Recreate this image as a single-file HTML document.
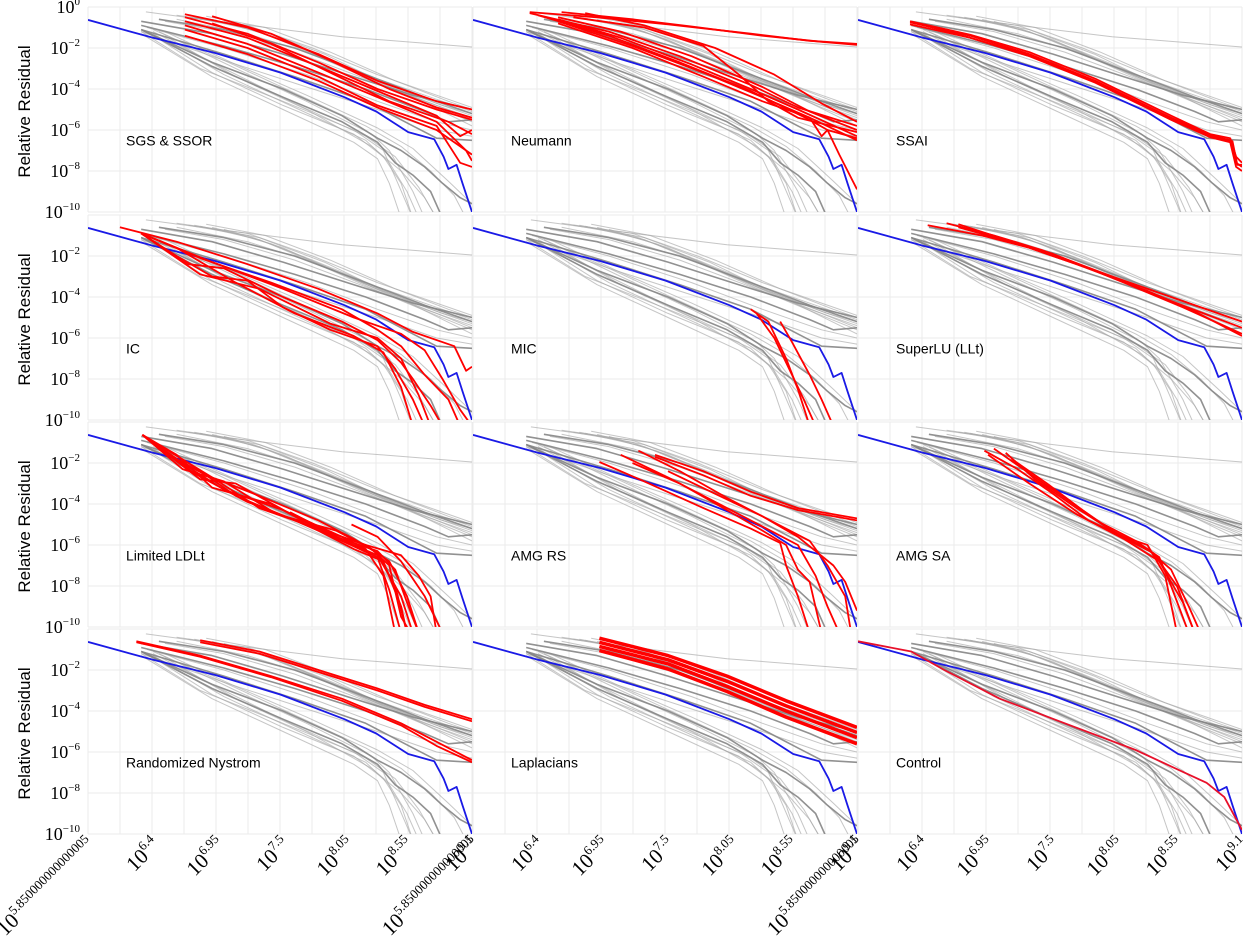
<!DOCTYPE html>
<html><head><meta charset="utf-8"><title>Relative Residual panels</title>
<style>
html,body{margin:0;padding:0;background:#fff;}
svg{display:block;}
</style></head>
<body>
<svg id="chart" width="1250" height="938" viewBox="0 0 1250 938" xmlns="http://www.w3.org/2000/svg"></svg>
<script>
// ---------- data (log10 x, log10 residual) ----------
const panelNames = ["SGS & SSOR","Neumann","SSAI","IC","MIC","SuperLU (LLt)","Limited LDLt","AMG RS","AMG SA","Randomized Nystrom","Laplacians","Control"];
const xTickVals = [5.85,6.4,6.95,7.5,8.05,8.55,9.1];
const xTickSupCol12 = ["5.850000000000005","6.4","6.95","7.5","8.05","8.55","9.1"];
const xTickSupCol3 = ["5.850000000000005","6.4","6.95","7.5","8.05","8.55","9.1"];
const yTickVals = [0,-2,-4,-6,-8,-10];
const yTickSup = ["0","\u22122","\u22124","\u22126","\u22128","\u221210"];

const grayLight = [
 [[6.34,-0.24],[7.0,-0.75],[8.0,-1.45],[9.1,-1.95]],
 [[6.6,-0.4],[7.2,-0.9],[7.75,-2.0],[8.3,-3.3],[8.8,-4.3],[9.1,-4.9]],
 [[6.7,-0.5],[7.2,-1.0],[7.75,-2.2],[8.3,-3.5],[8.8,-4.5],[9.1,-5.1]],
 [[6.8,-0.55],[7.3,-1.2],[7.8,-2.4],[8.3,-3.6],[8.8,-4.7],[9.1,-5.3]],
 [[6.9,-0.6],[7.4,-1.4],[7.9,-2.6],[8.4,-3.9],[8.8,-4.8],[9.1,-5.5]],
 [[6.6,-0.6],[7.2,-1.3],[7.75,-2.3],[8.3,-3.7],[8.8,-4.9],[9.1,-5.6]],
 [[6.5,-0.7],[7.0,-1.2],[7.6,-2.2],[8.2,-3.5],[8.7,-4.6],[9.1,-5.4]],
 [[7.0,-0.7],[7.5,-1.6],[8.0,-2.9],[8.5,-4.1],[9.1,-5.8]],
 [[6.3,-1.2],[7.0,-2.6],[7.7,-3.9],[8.3,-5.0],[8.8,-6.0],[9.1,-6.3]],
 [[6.35,-1.0],[7.0,-2.0],[7.7,-3.3],[8.3,-4.6],[8.8,-5.6],[9.1,-6.0]],
 [[6.3,-1.2],[6.8,-3.0],[7.5,-4.6],[8.1,-6.0],[8.35,-7.0],[8.45,-8.3],[8.6,-10.3]],
 [[6.35,-1.2],[6.9,-3.2],[7.5,-4.8],[8.1,-6.2],[8.35,-7.3],[8.5,-8.6],[8.6,-10.3]],
 [[6.4,-1.3],[7.0,-3.3],[7.6,-4.9],[8.2,-6.5],[8.4,-7.6],[8.55,-9.0],[8.65,-10.3]],
 [[6.4,-1.2],[7.0,-3.0],[7.6,-4.7],[8.2,-6.3],[8.45,-7.3],[8.65,-8.8],[8.8,-10.3]],
 [[6.5,-1.4],[7.1,-3.4],[7.7,-5.0],[8.25,-6.8],[8.5,-8.0],[8.7,-9.3],[8.8,-10.3]],
 [[6.4,-1.1],[7.0,-2.6],[7.6,-4.2],[8.2,-5.8],[8.5,-6.8],[8.75,-8.0],[8.95,-9.2],[9.05,-10.3]],
 [[6.5,-1.2],[7.1,-2.8],[7.7,-4.3],[8.3,-5.9],[8.6,-6.9],[8.9,-8.5],[9.1,-9.6]],
 [[6.45,-1.2],[7.1,-3.0],[7.7,-4.6],[8.25,-6.2],[8.4,-7.0],[8.5,-8.0],[8.6,-9.0],[8.7,-10.3]],
 [[6.3,-1.3],[6.9,-3.4],[7.5,-5.0],[8.1,-6.6],[8.3,-7.4],[8.4,-8.6],[8.5,-10.3]],
 [[6.75,-0.5],[7.3,-1.1],[7.85,-2.3],[8.35,-3.7],[8.85,-4.8],[9.1,-5.2]],
 [[6.85,-0.45],[7.35,-1.0],[7.9,-2.2],[8.45,-3.6],[8.9,-4.6],[9.1,-5.0]]
];
const grayDark = [
 [[6.3,-0.7],[6.9,-1.3],[7.5,-2.3],[8.1,-3.4],[8.6,-4.3],[9.1,-5.0]],
 [[6.45,-0.6],[7.0,-1.1],[7.6,-2.0],[8.2,-3.3],[8.7,-4.4],[9.1,-5.2]],
 [[6.3,-0.9],[7.0,-1.9],[7.6,-2.9],[8.2,-4.0],[8.7,-5.1],[8.9,-5.6],[9.1,-5.5]],
 [[6.3,-1.1],[7.0,-2.3],[7.6,-3.4],[8.2,-4.6],[8.6,-5.8],[8.8,-6.4],[9.1,-6.5]],
 [[6.3,-1.1],[6.9,-2.7],[7.5,-4.0],[8.0,-5.3],[8.3,-6.4],[8.5,-7.0],[8.7,-7.8],[8.85,-8.6],[9.0,-9.3],[9.1,-9.6]],
 [[6.3,-1.1],[6.9,-2.9],[7.5,-4.4],[8.0,-5.6],[8.3,-6.6],[8.45,-7.6],[8.6,-8.2],[8.75,-9.0],[8.85,-10.3]]
];
const blueSeries = [[5.85,-0.63],[6.4,-1.5],[6.93,-2.25],[7.48,-3.2],[8.02,-4.4],[8.29,-5.1],[8.56,-6.1],[8.78,-6.45],[8.86,-7.3],[8.9,-7.9],[8.97,-7.7],[9.02,-8.6],[9.1,-10.0]];

const redSGS = [
 [[6.67,-0.35],[7.2,-1.0],[7.8,-2.3],[8.3,-3.6],[8.8,-4.6],[9.1,-5.0]],
 [[6.67,-0.5],[7.2,-1.3],[7.8,-2.7],[8.3,-4.0],[8.8,-5.0],[9.1,-5.5]],
 [[6.67,-0.7],[7.2,-1.5],[7.8,-2.9],[8.3,-4.1],[8.8,-5.3],[9.0,-6.3],[9.1,-6.0]],
 [[6.67,-0.9],[7.2,-1.8],[7.8,-3.2],[8.3,-4.4],[8.8,-5.6],[9.05,-7.0],[9.1,-7.5]],
 [[6.67,-1.1],[7.2,-2.0],[7.8,-3.4],[8.3,-4.8],[8.8,-5.8],[9.0,-7.6],[9.1,-7.8]],
 [[6.9,-0.45],[7.4,-1.3],[7.9,-2.6],[8.4,-4.0],[8.8,-4.9],[9.1,-5.4]],
 [[6.9,-0.8],[7.4,-1.8],[7.9,-3.2],[8.4,-4.6],[8.9,-5.6],[9.1,-6.2]],
 [[6.67,-1.4],[7.2,-2.3],[7.8,-3.6],[8.3,-4.9],[8.8,-6.0],[9.0,-6.8],[9.1,-7.2]]
];
const redNeumann = [
 [[6.33,-0.25],[6.9,-0.5],[7.5,-0.85],[8.2,-1.3],[8.7,-1.65],[9.1,-1.8]],
 [[6.6,-0.25],[7.2,-0.6],[7.7,-0.95],[8.3,-1.4],[8.8,-1.7],[9.1,-1.85]],
 [[6.33,-0.3],[7.0,-1.2],[7.6,-2.4],[8.2,-3.8],[8.6,-4.9],[9.1,-5.8]],
 [[6.57,-0.6],[7.1,-1.5],[7.7,-2.8],[8.2,-4.0],[8.6,-5.0],[9.1,-6.3]],
 [[6.7,-0.5],[7.3,-1.0],[7.8,-1.9],[8.1,-3.3],[8.35,-4.6],[8.6,-5.4],[9.1,-6.1]],
 [[6.57,-0.7],[7.2,-1.9],[7.8,-3.2],[8.3,-4.4],[8.7,-5.4],[9.1,-6.5]],
 [[6.4,-0.4],[7.0,-1.4],[7.6,-2.7],[8.2,-4.1],[8.7,-5.5],[8.85,-6.0],[8.95,-7.2],[9.1,-8.9]],
 [[6.57,-0.5],[7.1,-1.2],[7.7,-2.4],[8.3,-3.9],[8.7,-5.1],[9.1,-6.0]],
 [[6.8,-0.3],[7.3,-0.9],[7.9,-2.0],[8.4,-3.3],[8.8,-4.7],[9.1,-5.6]],
 [[6.57,-0.8],[7.2,-2.0],[7.8,-3.4],[8.3,-4.6],[8.7,-5.4],[8.8,-6.3],[8.85,-6.0],[9.1,-6.4]]
];
const redSSAI = [
 [[6.29,-0.75],[6.8,-1.4],[7.3,-2.3],[7.86,-3.6],[8.5,-5.4],[8.83,-6.25],[9.0,-6.5],[9.05,-7.6],[9.1,-7.8]],
 [[6.29,-0.85],[6.8,-1.5],[7.3,-2.4],[7.86,-3.7],[8.5,-5.5],[8.83,-6.35],[9.0,-6.6],[9.05,-7.8],[9.1,-8.0]],
 [[6.29,-0.7],[6.8,-1.35],[7.3,-2.2],[7.86,-3.5],[8.5,-5.3],[8.83,-6.2],[9.0,-6.4],[9.05,-7.3],[9.1,-7.6]],
 [[6.35,-0.8],[6.8,-1.5],[7.3,-2.35],[7.86,-3.65],[8.5,-5.45],[8.83,-6.3],[9.02,-6.55],[9.06,-7.7],[9.1,-7.7]]
];
const redIC = [
 [[6.12,-0.6],[6.6,-1.3],[7.2,-2.4],[7.8,-3.6],[8.3,-4.8],[8.6,-5.7],[8.95,-6.4],[9.05,-7.6],[9.1,-7.4]],
 [[6.3,-0.9],[6.8,-2.1],[7.4,-3.3],[8.0,-4.6],[8.3,-5.6],[8.5,-6.4],[8.7,-7.8],[8.9,-9.0],[9.0,-10.3]],
 [[6.3,-0.9],[6.7,-2.4],[7.0,-2.6],[7.5,-4.0],[8.0,-5.2],[8.3,-6.1],[8.5,-7.2],[8.6,-8.0],[8.75,-9.3],[8.85,-10.3]],
 [[6.3,-0.9],[6.6,-2.0],[6.9,-3.0],[7.2,-3.2],[7.5,-4.5],[7.9,-5.6],[8.3,-6.4],[8.45,-7.5],[8.6,-9.0],[8.7,-10.3]],
 [[6.3,-0.9],[6.9,-2.3],[7.5,-3.6],[8.1,-5.0],[8.5,-5.8],[8.7,-6.6],[8.85,-8.0],[9.0,-9.5],[9.1,-10.3]],
 [[6.3,-0.9],[6.6,-1.6],[7.1,-3.3],[7.6,-4.8],[8.1,-5.9],[8.35,-6.7],[8.5,-8.4],[8.6,-10.3]],
 [[6.3,-0.9],[6.8,-2.9],[7.3,-3.6],[7.9,-5.3],[8.3,-6.0],[8.5,-7.0],[8.65,-8.8],[8.75,-10.3]]
];
const redMIC = [
 [[8.2,-4.6],[8.35,-5.2],[8.5,-7.0],[8.6,-8.5],[8.7,-10.3]],
 [[8.25,-4.8],[8.4,-6.0],[8.55,-7.8],[8.65,-9.0],[8.75,-10.3]],
 [[8.45,-5.2],[8.55,-6.2],[8.7,-7.8],[8.8,-9.0],[8.9,-10.3]]
];
const redSuperLU = [
 [[6.44,-0.5],[6.9,-1.0],[7.3,-1.6],[7.9,-2.8],[8.5,-4.0],[9.1,-5.2]],
 [[6.6,-0.4],[7.0,-1.0],[7.4,-1.7],[8.0,-3.0],[8.5,-4.2],[9.1,-5.5]],
 [[6.7,-0.45],[7.1,-1.2],[7.5,-1.9],[8.1,-3.3],[8.6,-4.5],[9.1,-5.8]],
 [[6.7,-0.6],[7.2,-1.4],[7.7,-2.4],[8.3,-3.7],[8.7,-4.7],[9.1,-5.9]]
];
const redLDLt = [
 [[6.31,-0.63],[6.6,-1.8],[6.85,-2.6],[7.3,-3.6],[7.8,-4.8],[8.1,-5.7],[8.3,-6.4],[8.45,-8.0],[8.55,-10.3]],
 [[6.31,-0.63],[6.7,-2.2],[7.0,-3.3],[7.5,-4.3],[8.0,-5.6],[8.2,-6.2],[8.35,-7.5],[8.45,-10.3]],
 [[6.31,-0.63],[6.8,-2.8],[7.1,-3.0],[7.6,-4.6],[8.1,-6.0],[8.3,-6.5],[8.5,-8.5],[8.6,-10.3]],
 [[6.31,-0.63],[6.75,-2.5],[7.2,-3.9],[7.7,-5.0],[8.1,-6.2],[8.35,-6.8],[8.5,-9.0],[8.55,-10.3]],
 [[6.31,-0.63],[6.9,-2.7],[7.3,-4.2],[7.8,-5.2],[8.2,-6.0],[8.5,-6.5],[8.65,-7.5],[8.75,-8.5],[8.8,-10.3]],
 [[6.31,-0.63],[6.7,-2.0],[7.1,-3.6],[7.6,-4.8],[8.0,-5.8],[8.3,-6.6],[8.4,-8.2],[8.5,-10.3]],
 [[7.56,-4.4],[7.9,-5.4],[8.2,-6.0],[8.4,-6.8],[8.55,-8.5],[8.65,-10.3]],
 [[8.08,-5.0],[8.3,-5.6],[8.5,-6.8],[8.7,-8.5],[8.85,-10.3]],
 [[6.31,-0.63],[6.6,-1.6],[6.9,-3.2],[7.4,-4.0],[7.9,-5.5],[8.3,-6.3],[8.45,-7.2],[8.55,-8.8],[8.65,-10.3]],
 [[6.31,-0.63],[6.65,-2.3],[7.0,-2.9],[7.45,-4.5],[7.95,-5.3],[8.25,-6.2],[8.4,-7.0],[8.5,-9.5],[8.58,-10.3]]
];
const redAMGRS = [
 [[7.39,-1.6],[7.8,-2.4],[8.2,-3.4],[8.6,-4.2],[8.9,-4.5],[9.1,-4.7]],
 [[7.39,-1.7],[7.8,-2.6],[8.2,-3.6],[8.6,-4.3],[8.9,-4.6],[9.1,-4.8]],
 [[6.92,-1.95],[7.3,-2.9],[7.8,-4.2],[8.2,-5.2],[8.45,-5.9],[8.5,-7.0],[8.6,-8.5],[8.7,-10.3]],
 [[7.1,-1.6],[7.5,-2.7],[8.0,-4.2],[8.4,-5.4],[8.6,-6.0],[8.75,-7.5],[8.85,-9.0],[8.95,-10.3]],
 [[7.25,-1.4],[7.6,-2.4],[8.0,-3.7],[8.4,-4.9],[8.7,-5.8],[8.85,-7.0],[9.0,-8.5],[9.05,-10.3]],
 [[7.2,-2.0],[7.6,-3.0],[8.0,-4.3],[8.3,-5.3],[8.5,-6.0],[8.6,-7.2],[8.7,-7.8],[8.8,-10.3]],
 [[7.5,-2.4],[7.9,-3.5],[8.3,-4.6],[8.6,-5.6],[8.75,-6.3],[8.9,-7.0],[9.0,-7.8],[9.1,-9.2]]
];
const redAMGSA = [
 [[6.92,-1.4],[7.2,-2.3],[7.5,-3.5],[7.8,-4.8],[8.1,-5.6],[8.3,-6.0],[8.45,-7.5],[8.55,-10.3]],
 [[7.0,-1.3],[7.3,-2.5],[7.6,-3.7],[7.9,-4.9],[8.2,-5.8],[8.4,-6.6],[8.5,-8.0],[8.65,-10.3]],
 [[7.1,-1.5],[7.35,-2.8],[7.7,-4.2],[8.0,-5.3],[8.3,-6.2],[8.5,-7.2],[8.65,-9.0],[8.75,-10.3]],
 [[7.15,-1.8],[7.45,-3.0],[7.75,-4.3],[8.05,-5.5],[8.35,-6.4],[8.55,-8.0],[8.7,-10.3]],
 [[6.95,-1.6],[7.3,-3.0],[7.7,-4.5],[8.1,-5.7],[8.4,-6.8],[8.6,-8.8],[8.7,-10.3]]
];
const redNystrom = [
 [[6.8,-0.55],[7.3,-1.1],[7.8,-2.0],[8.3,-2.9],[8.7,-3.7],[9.1,-4.4]],
 [[6.8,-0.65],[7.3,-1.2],[7.8,-2.1],[8.3,-3.0],[8.7,-3.8],[9.1,-4.5]],
 [[6.26,-0.6],[6.8,-1.3],[7.4,-2.3],[8.0,-3.4],[8.5,-4.6],[8.8,-5.5],[9.1,-6.4]],
 [[6.26,-0.65],[6.8,-1.35],[7.4,-2.35],[8.0,-3.5],[8.5,-4.7],[8.8,-5.7],[9.1,-6.5]]
];
const redLaplacians = [
 [[6.92,-0.45],[7.5,-1.3],[8.0,-2.3],[8.5,-3.5],[9.1,-4.8]],
 [[6.92,-0.65],[7.5,-1.5],[8.0,-2.55],[8.5,-3.75],[9.1,-5.05]],
 [[6.92,-0.85],[7.5,-1.7],[8.0,-2.8],[8.5,-4.0],[9.1,-5.3]],
 [[6.92,-1.05],[7.5,-1.95],[8.0,-3.05],[8.5,-4.3],[9.1,-5.6]]
];
const redControl = [
 [[5.85,-0.6],[6.3,-1.1],[6.58,-2.0],[7.05,-3.4],[7.6,-4.6],[8.2,-5.9],[8.5,-6.7],[8.8,-7.5],[8.95,-8.2],[9.1,-9.8]]
];
const redByPanel = [redSGS,redNeumann,redSSAI,redIC,redMIC,redSuperLU,redLDLt,redAMGRS,redAMGSA,redNystrom,redLaplacians,redControl];

// ---------- layout ----------
const NS = "http://www.w3.org/2000/svg";
const svg = document.getElementById('chart');
const colX = [88,473,858];
const rowTop = [7,215,422,629];
const PW = 384, PH = 205;
const XMIN = 5.85, XMAX = 9.1, YMIN = -10, YMAX = 0;
function sx(col, lx){ return colX[col] + (lx - XMIN) / (XMAX - XMIN) * PW; }
function sy(row, ly){ return rowTop[row] + (YMAX - ly) / (YMAX - YMIN) * PH; }
function mk(tag, attrs){ const e = document.createElementNS(NS, tag); for (const k in attrs) e.setAttribute(k, attrs[k]); return e; }

const defs = mk('defs', {});
svg.appendChild(defs);

function drawSeries(g, row, col, pts, stroke, width, opacity, name){
  const d = pts.map((p,i) => (i ? 'L' : 'M') + sx(col,p[0]).toFixed(1) + ',' + sy(row,p[1]).toFixed(1)).join(' ');
  const path = mk('path', {d:d, fill:'none', stroke:stroke, 'stroke-width':width, 'stroke-opacity':opacity, 'stroke-linejoin':'round'});
  
  
  g.appendChild(path);
}

for (let p = 0; p < 12; p++){
  const row = Math.floor(p/3), col = p%3;
  const g = mk('g', {});
  
  
  svg.appendChild(g);
  const cp = mk('clipPath', {id:'clip'+p});
  cp.appendChild(mk('rect', {x:colX[col], y:rowTop[row], width:PW, height:PH}));
  defs.appendChild(cp);
  const grid = mk('g', {stroke:'#ebebeb', 'stroke-width':1});
  
  
  g.appendChild(grid);
  for (let i = 0; i <= 12; i++){
    const x = colX[col] + i*PW/12;
    grid.appendChild(mk('line', {x1:x, x2:x, y1:rowTop[row], y2:rowTop[row]+PH}));
  }
  yTickVals.forEach(v => {
    const y = sy(row, v);
    grid.appendChild(mk('line', {x1:colX[col], x2:colX[col]+PW, y1:y, y2:y}));
  });
  const lines = mk('g', {'clip-path':'url(#clip'+p+')'});
  
  
  g.appendChild(lines);
  grayLight.forEach((s,i) => drawSeries(lines, row, col, s, '#a8a8a8', 1, 0.65, 'gray-line-' + i));
  grayDark.forEach((s,i) => drawSeries(lines, row, col, s, '#858585', 1.6, 0.9, 'gray-dark-line-' + i));
  drawSeries(lines, row, col, blueSeries, '#1a1ae6', 1.8, 1, 'reference-blue-line');
  const wid = (p === 10) ? 3.5 : 1.8;
  redByPanel[p].forEach((s,i) => drawSeries(lines, row, col, s, (p===11)?'#e8102a':'#ff0000', wid, 1, 'highlight-red-line-' + i));
  const t = mk('text', {x:colX[col]+38, y:sy(row,-6.5)+5, 'font-family':'"Liberation Sans", sans-serif', 'font-size':14, fill:'#000'});
  t.textContent = panelNames[p];
  
  
  g.appendChild(t);
}

// y-axis tick labels and titles
for (let row = 0; row < 4; row++){
  yTickVals.forEach((v,i) => {
    if (row > 0 && v === 0) return;
    const y = sy(row, v);
    const t = mk('text', {x:80, y:y+6, 'text-anchor':'end', 'font-family':'"Liberation Serif", serif', 'font-size':18, fill:'#000'});
    
    
    const b = mk('tspan', {}); b.textContent = '10';
    const s = mk('tspan', {'font-size':11, dy:-8}); s.textContent = yTickSup[i];
    t.appendChild(b); t.appendChild(s);
    svg.appendChild(t);
  });
  const cy = rowTop[row] + PH/2 + 2;
  const tt = mk('text', {x:0, y:0, transform:'translate(30,'+cy+') rotate(-90)', 'text-anchor':'middle', 'font-family':'"Liberation Sans", sans-serif', 'font-size':17, fill:'#000'});
  tt.textContent = 'Relative Residual';
  
  
  svg.appendChild(tt);
}

// x-axis tick labels (bottom row)
for (let col = 0; col < 3; col++){
  const labels = col < 2 ? xTickSupCol12 : xTickSupCol3;
  xTickVals.forEach((v,i) => {
    const x = sx(col, v);
    const t = mk('text', {x:0, y:0, transform:'translate('+(x+8)+',846) rotate(-45)', 'text-anchor':'end', 'font-family':'"Liberation Serif", serif', 'font-size':21, fill:'#000'});
    
    
    const b = mk('tspan', {}); b.textContent = '10';
    const s = mk('tspan', {'font-size':13, dy:-9}); s.textContent = labels[i];
    t.appendChild(b); t.appendChild(s);
    svg.appendChild(t);
  });
}
</script>
</body></html>
